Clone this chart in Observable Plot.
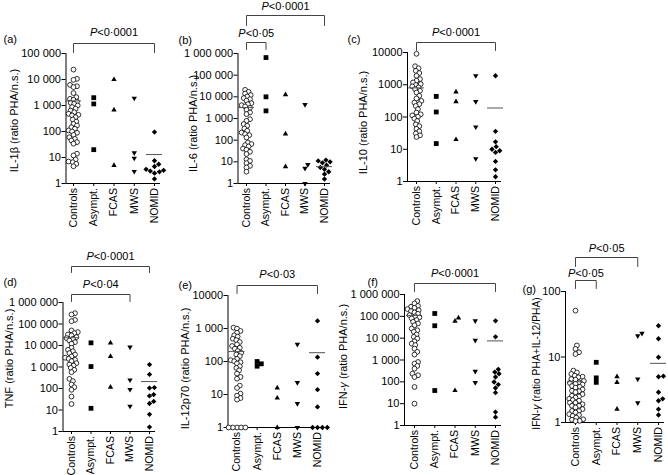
<!DOCTYPE html>
<html><head><meta charset="utf-8">
<script src="https://cdn.jsdelivr.net/npm/d3@7"></script>
<script src="https://cdn.jsdelivr.net/npm/@observablehq/plot@0.6"></script>
<style>
body{margin:0;background:#fff;}
#root{position:relative;width:668px;height:475px;overflow:hidden;background:#fff;}
#root > div{position:absolute;}
</style></head><body><div id="root"></div>
<script>
const groups = ["Controls", "Asympt.", "FCAS", "MWS", "NOMID"];

// (a) IL-1β — groups in order Controls, Asympt., FCAS, MWS, NOMID
const il1b = [
  [24000, 10600, 9700, 6200, 5500, 5100, 3000, 2100, 1800, 1650, 1420, 1260, 1160, 1000, 870, 750, 640, 550, 480, 440, 415, 355, 290, 240, 195, 170, 145, 127, 110, 100, 89, 74, 60, 52, 45, 39, 34, 14, 12, 8.4, 7, 6.6, 5.7, 4.6],
  [2000, 1150, 20],
  [10000, 680, 5],
  [1900, 15, 9.4, 2.9],
  [95, 7.5, 5.5, 4.5, 3.5, 3.2, 3, 2.8, 2.5, 1.5]
];
const il1bMeans = [1500, null, null, null, 13];

// (b) IL-6
const il6 = [
  [21000, 17000, 14200, 12000, 10400, 8700, 7800, 6600, 5100, 4600, 4100, 3600, 3100, 2500, 1900, 1600, 930, 780, 550, 460, 345, 270, 225, 190, 170, 133, 78, 66, 59, 51, 41, 36, 29, 23, 13, 11, 8.7, 6.5, 5.5, 3.5],
  [650000, 10000, 2250],
  [12500, 195, 6],
  [4400, 7.5, 5, 1],
  [12, 11, 10, 9, 7, 5.5, 4.5, 3.5, 2.7, 1.6]
];
const il6Means = [3200, null, null, null, 6];

// (c) IL-10
const il10 = [
  [9100, 3750, 3250, 2700, 2300, 1900, 1500, 1330, 1180, 1050, 980, 890, 830, 730, 650, 575, 455, 375, 315, 280, 250, 220, 175, 137, 121, 112, 102, 89, 75, 59, 52, 43, 36, 31, 27, 24],
  [435, 143, 15],
  [600, 300, 20],
  [1900, 300, 49, 5.1],
  [1900, 36, 17, 12, 10, 9, 8, 4.2, 2.3, 1.4]
];
const il10Means = [800, null, null, null, 190];

// (d) TNF
const tnf = [
  [318000, 277000, 155000, 135000, 50000, 42000, 37500, 32600, 29300, 24500, 22000, 20500, 17000, 14300, 12000, 7800, 6300, 5400, 4400, 3800, 3100, 2700, 2400, 2150, 1870, 1500, 1300, 1170, 910, 740, 575, 280, 220, 154, 115, 87, 42, 19],
  [13300, 1050, 12],
  [13300, 3100, 115],
  [8400, 250, 90, 15],
  [1300, 450, 110, 105, 52, 45, 25, 20, 6.3, 1.6]
];
const tnfMeans = [23000, null, null, null, 210];

// (e) IL-12p70
const il12 = [
  [1060, 990, 840, 745, 620, 565, 490, 445, 390, 330, 295, 260, 245, 207, 183, 163, 145, 120, 110, 102, 95, 87, 72, 64, 54, 43, 34, 30, 18.6, 15.8, 10.6, 9.2, 7.8, 7, 1, 1, 1, 1, 1],
  [100, 72, 85],
  [15.8, 7.8, 1],
  [330, 23, 5.3, 1],
  [1700, 135, 43, 14, 4.2, 1, 1, 1, 1]
];
const il12Means = [200, null, null, null, 185];

// (f) IFN-γ
const ifng = [
  [500000, 390000, 300000, 275000, 245000, 215000, 190000, 173000, 150000, 130000, 113000, 100000, 89000, 80000, 67000, 56000, 47000, 39000, 27500, 23000, 19400, 14700, 11500, 9600, 7200, 5600, 4800, 3300, 2350, 1770, 810, 680, 535, 400, 235, 200, 166, 58, 10],
  [135000, 37000, 40],
  [85000, 60000, 40],
  [62000, 8000, 300, 92],
  [62000, 11500, 375, 280, 235, 166, 98, 75, 52, 32, 4.1, 2.4]
];
const ifngMeans = [110000, null, null, null, 7500];

// (g) IFN-γ ratio PHA+IL-12/PHA
const ifngRatio = [
  [51, 15, 13.3, 11.8, 11.1, 6.2, 5.8, 5.5, 5.2, 5.0, 4.9, 4.6, 4.5, 4.3, 4.1, 4.0, 3.9, 3.8, 3.6, 3.5, 3.4, 3.2, 3.05, 3.0, 2.9, 2.7, 2.56, 2.5, 2.4, 2.3, 2.2, 2.15, 2.0, 2.0, 1.9, 1.8, 1.8, 1.7, 1.6, 1.5, 1.5, 1.42, 1.34, 1.3, 1.26, 1.19, 1.12, 1.1, 1.06, 1.05],
  [8.3, 4.8, 4.1],
  [5, 4.1, 1.6],
  [23, 21, 4.6, 2.0],
  [30, 19, 9.9, 5.1, 5.0, 2.9, 2.3, 2.15, 1.6, 1.3]
];
const ifngRatioMeans = [4.2, null, null, null, 8];

// tick values and labels
const ticks4 = [1, 10, 100, 1000, 10000];
const ticks5 = [1, 10, 100, 1000, 10000, 100000];
const ticks6 = [1, 10, 100, 1000, 10000, 100000, 1000000];
const ticks2 = [1, 10, 100];
const labelsA = ["1", "10", "100", "1 000", "10 000", "100 000"];
const labelsMillion = ["1", "10", "100", "1 000", "10 000", "100 000", "1 000 000"];
const labelsC = ["1", "10", "100", "1000", "10000"];
const labelsE = ["1", "10", "100", "1 000", "10000"];
const labelsG = ["1", "10", "100"];

// significance brackets: [from group, to group, text]
const bracketsA = [[0, 4, "P<0·0001"]];
const bracketsB = [[0, 4, "P<0·0001"], [0, 1, "P<0·05"]];
const bracketsC = [[0, 4, "P<0·0001"]];
const bracketsD = [[0, 4, "P<0·0001"], [0, 3, "P<0·04"]];
const bracketsE = [[0, 4, "P<0·03"]];
const bracketsF = [[0, 4, "P<0·0001"]];
const bracketsG = [[0, 3, "P<0·05"], [0, 1, "P<0·05"]];

// layout (pixels) for each panel
const panels = [
  {letter: "(a)", ylabel: "IL-1β (ratio PHA/n.s.)", values: il1b, means: il1bMeans, max: 1e5, tickVals: ticks5, tickLabels: labelsA, brackets: bracketsA,
   box: [0, 0, 165, 237], ax: 65.5, c0: 73, c4: 154, top: 53, bottom: 183, labelX: 14, labelY: 120, letterX: 3, letterY: 39, labelSize: 11,
   levels: [[43, 52, 32]]},
  {letter: "(b)", ylabel: "IL-6 (ratio PHA/n.s.)", values: il6, means: il6Means, max: 1e6, tickVals: ticks6, tickLabels: labelsMillion, brackets: bracketsB,
   box: [165, 0, 165, 237], ax: 237.5, c0: 246, c4: 324, top: 53, bottom: 183, labelX: 193, labelY: 123, letterX: 178, letterY: 40, labelSize: 11,
   levels: [[15, 25, 6], [42, 49, 33]]},
  {letter: "(c)", ylabel: "IL-10 (ratio PHA/n.s.)", values: il10, means: il10Means, max: 1e4, tickVals: ticks4, tickLabels: labelsC, brackets: bracketsC,
   box: [330, 0, 180, 237], ax: 407, c0: 416, c4: 495, top: 52, bottom: 181, labelX: 363, labelY: 122, letterX: 347, letterY: 39, labelSize: 11,
   levels: [[42, 50, 32]]},
  {letter: "(d)", ylabel: "TNF (ratio PHA/n.s.)", values: tnf, means: tnfMeans, max: 1e6, tickVals: ticks6, tickLabels: labelsMillion, brackets: bracketsD,
   box: [0, 237, 165, 238], ax: 62.5, c0: 71, c4: 149, top: 302, bottom: 431, labelX: 9, labelY: 358, letterX: 3, letterY: 282, labelSize: 11,
   levels: [[266, 272, 256], [294, 301, 284]]},
  {letter: "(e)", ylabel: "IL-12p70 (ratio PHA/n.s.)", values: il12, means: il12Means, max: 1e4, tickVals: ticks4, tickLabels: labelsE, brackets: bracketsE,
   box: [165, 237, 165, 238], ax: 227.5, c0: 236.5, c4: 317, top: 295, bottom: 427, labelX: 185, labelY: 368, letterX: 178, letterY: 285, labelSize: 11,
   levels: [[285, 293, 274]]},
  {letter: "(f)", ylabel: "IFN-γ (ratio PHA/n.s.)", values: ifng, means: ifngMeans, max: 1e6, tickVals: ticks6, tickLabels: labelsMillion, brackets: bracketsF,
   box: [330, 237, 170, 238], ax: 404, c0: 414, c4: 495, top: 294, bottom: 425, labelX: 343, labelY: 356, letterX: 367, letterY: 282, labelSize: 11,
   levels: [[283, 291, 273]]},
  {letter: "(g)", ylabel: "IFN-γ (ratio PHA+IL-12/PHA)", values: ifngRatio, means: ifngRatioMeans, max: 100, tickVals: ticks2, tickLabels: labelsG, brackets: bracketsG,
   box: [500, 237, 168, 238], ax: 565, c0: 575, c4: 658, top: 291, bottom: 422, labelX: 536, labelY: 363, letterX: 522, letterY: 289, labelSize: 10.3,
   levels: [[257, 266, 248], [280, 288, 273]]}
];

const sqrt3 = Math.sqrt(3);
const triangleDown = {
  draw(context, size) {
    const y = Math.sqrt(size / (sqrt3 * 3));
    context.moveTo(0, y * 2);
    context.lineTo(-sqrt3 * y, -y);
    context.lineTo(sqrt3 * y, -y);
    context.closePath();
  }
};

// simple deterministic beeswarm offsets in pixels
function swarm(vals, ppd, minD, step) {
  const order = d3.range(vals.length).sort((a, b) => vals[a] - vals[b]);
  const placed = [];
  const off = new Array(vals.length).fill(0);
  for (const i of order) {
    const py = Math.log10(vals[i]) * ppd;
    let best = 0;
    for (let k = 0; k < 30; k++) {
      const cand = (k % 2 ? 1 : -1) * Math.ceil(k / 2) * step;
      if (placed.every(p => (p.x - cand) ** 2 + (p.y - py) ** 2 >= minD * minD)) { best = cand; break; }
    }
    placed.push({x: best, y: py});
    off[i] = best + 0;
  }
  return off;
}

const FONT = "'Liberation Sans', Arial, Helvetica, sans-serif";

function makePanel(p) {
  const [bx, by, bw, bh] = p.box;
  const unit = (p.c4 - p.c0) / 4;
  const lo = -(p.c0 - p.ax) / unit;
  const hi = 4 + 6 / unit;
  const decades = Math.log10(p.max);
  const ppd = (p.bottom - p.top) / decades;
  const yAt = px => Math.pow(10, decades + (p.top - px) / ppd);

  const rows = [];
  p.values.forEach((vals, g) => {
    const off = swarm(vals, ppd, g === 0 ? 3.6 : 4.4, 0.7);
    vals.forEach((v, i) => rows.push({gi: g, value: v, x: g + off[i] / unit}));
  });
  const meanRows = p.means.map((m, g) => ({gi: g, value: m})).filter(d => d.value != null);

  const symbols = [null, "square", "triangle", triangleDown, "diamond2"];
  const radii = [2.4, 2.7, 2.0, 2.0, 2.4];

  const marks = [
    Plot.ruleY([1], {stroke: "black", strokeWidth: 1}),
    Plot.ruleX([lo], {stroke: "black", strokeWidth: 1}),
    Plot.dot(rows.filter(d => d.gi === 0), {x: "x", y: "value", r: radii[0], fill: "white", stroke: "black", strokeWidth: 0.8})
  ];
  for (let g = 1; g < 5; g++) {
    marks.push(Plot.dot(rows.filter(d => d.gi === g), {x: "x", y: "value", symbol: symbols[g], r: radii[g], fill: "black", stroke: "none"}));
  }
  marks.push(Plot.ruleY(meanRows, {x1: d => d.gi - 8 / unit, x2: d => d.gi + 8 / unit, y: "value", stroke: "#555", strokeWidth: 1}));

  p.brackets.forEach(([from, to, label], j) => {
    const [line, drop, text] = p.levels[j];
    const path = [{x: from, y: yAt(drop)}, {x: from, y: yAt(line)}, {x: to, y: yAt(line)}, {x: to, y: yAt(drop)}];
    marks.push(Plot.line(path, {x: "x", y: "y", stroke: "#444", strokeWidth: 1}));
    marks.push(Plot.text([label], {x: () => (from + to) / 2, y: () => yAt(text), text: d => d, lineAnchor: "middle"}));
  });

  marks.push(Plot.text([p.ylabel], {frameAnchor: "left", text: d => d, rotate: -90, textAnchor: "middle", lineAnchor: "middle", fontSize: p.labelSize,
    dx: p.labelX - p.ax, dy: p.labelY - (p.top + p.bottom) / 2}));
  marks.push(Plot.text([p.letter], {frameAnchor: "top-left", text: d => d, textAnchor: "start", lineAnchor: "middle",
    dx: p.letterX - p.ax, dy: p.letterY - p.top}));

  const marginLeft = p.ax - bx;
  const marginTop = p.top - by;
  const marginBottom = by + bh - p.bottom;
  const marginRight = bw - marginLeft - (hi - lo) * unit;

  const svg = Plot.plot({
    width: bw, height: bh,
    marginLeft, marginTop, marginBottom, marginRight,
    x: {domain: [lo, hi], ticks: [0, 1, 2, 3, 4], tickFormat: i => groups[i], tickRotate: -90, tickSize: 3, tickPadding: 1.5, label: null},
    y: {type: "log", domain: [1, p.max], ticks: p.tickVals, tickFormat: d => p.tickLabels[p.tickVals.indexOf(d)], tickSize: 4, tickPadding: 1, label: null},
    style: {fontFamily: FONT, fontSize: "11px", overflow: "visible", background: "none", color: "black"},
    marks
  });

  // italic P in significance labels, italic γ in axis titles, slightly smaller category labels
  d3.select(svg).selectAll("text").each(function () {
    const t = this.textContent;
    if (this.children.length !== 0) return;
    if (groups.includes(t)) {
      this.style.fontSize = "10.6px";
    } else if (t.startsWith("P<")) {
      this.textContent = "";
      d3.select(this).append("tspan").attr("font-style", "italic").text("P");
      d3.select(this).append("tspan").text(t.slice(1));
    } else if (t.includes("γ")) {
      const k = t.indexOf("γ");
      this.textContent = "";
      d3.select(this).append("tspan").text(t.slice(0, k));
      d3.select(this).append("tspan").attr("font-style", "italic").text("γ");
      d3.select(this).append("tspan").text(t.slice(k + 1));
    }
  });
  return svg;
}

const root = document.getElementById("root");
for (const p of panels) {
  const div = document.createElement("div");
  div.style.left = p.box[0] + "px";
  div.style.top = p.box[1] + "px";
  div.style.width = p.box[2] + "px";
  div.style.height = p.box[3] + "px";
  div.appendChild(makePanel(p));
  root.appendChild(div);
}
</script>
</body></html>
